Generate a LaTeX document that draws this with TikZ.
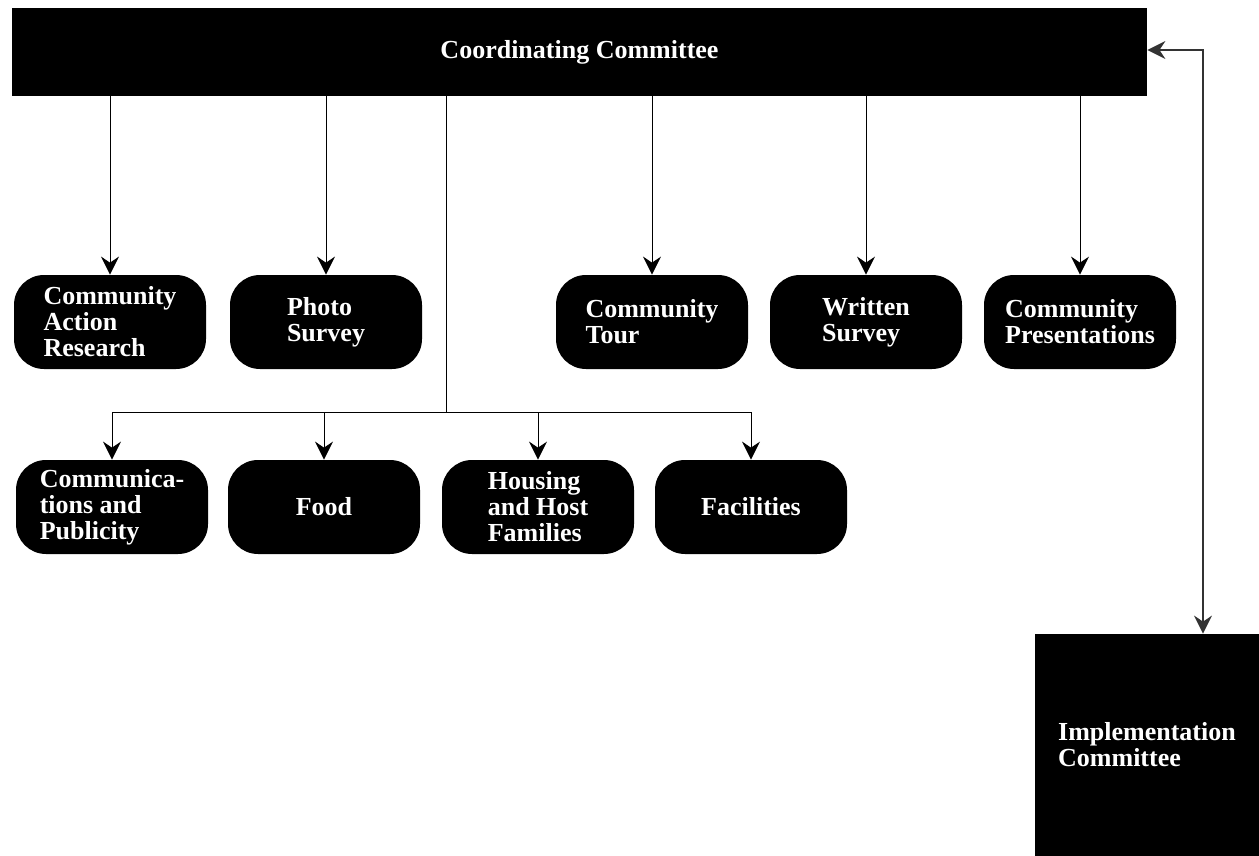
\documentclass[tikz,border=0pt]{standalone}
\usepackage{fontspec}
\setmainfont{Liberation Serif}
\usetikzlibrary{arrows.meta}
\colorlet{boxblack}{black}
\colorlet{linkgray}{black!80}

\begin{document}
\begin{tikzpicture}[x=0.5pt,y=-0.5pt,
    every node/.style={font=\bfseries\fontsize{13}{13}\selectfont, text=white},
    task/.style={fill=boxblack, rounded corners=15pt, minimum width=96pt,
        minimum height=47pt, align=left, inner sep=2pt},
    committee/.style={fill=boxblack, align=left, inner sep=0pt},
    link/.style={line width=0.5pt, -{Stealth[length=9pt,width=9pt,inset=3pt]}}]
    \useasboundingbox (0,0) rectangle (1259,856);
    % committees
    \node[committee, minimum width=567.5pt, minimum height=44pt] (cc) at (579.5,52) {Coordinating Committee};
    \node[committee, minimum width=112pt, minimum height=111pt] (impl) at (1147,745) {Implementation\\Committee};
    % upper row of tasks
    \foreach \name/\x/\txt in {car/110/{Community\\Action\\Research}, photo/326/{Photo\\Survey},
        tour/652/{Community\\Tour}, written/866/{Written\\Survey}, pres/1080/{Community\\Presentations}}{
        \node[task] (\name) at (\x,322) {\txt};
        \draw[link] (cc.south -| \name.north) -- (\name.north);
    }
    % lower row of tasks
    \foreach \name/\x/\txt in {comm/112/{Communica-\\tions and\\Publicity}, food/324/{Food},
        house/538/{Housing\\and Host\\Families}, fac/751/{Facilities}}{
        \node[task] (\name) at (\x,507) {\txt};
    }
    \coordinate (hub) at (446,412);
    \draw[line width=0.5pt] (cc.south -| hub) -- (hub);
    \foreach \name in {comm,food,house,fac}{
        \draw[link] (hub) -| (\name.north);
    }
    % feedback between committees
    \coordinate (turn) at (1203,50);
    \draw[linkgray, line width=0.7pt, {Stealth[length=9pt,width=9pt,inset=3pt]}-{Stealth[length=9pt,width=9pt,inset=3pt]}]
        (cc.east |- turn) -- (turn) -- (turn |- impl.north);
\end{tikzpicture}
\end{document}
